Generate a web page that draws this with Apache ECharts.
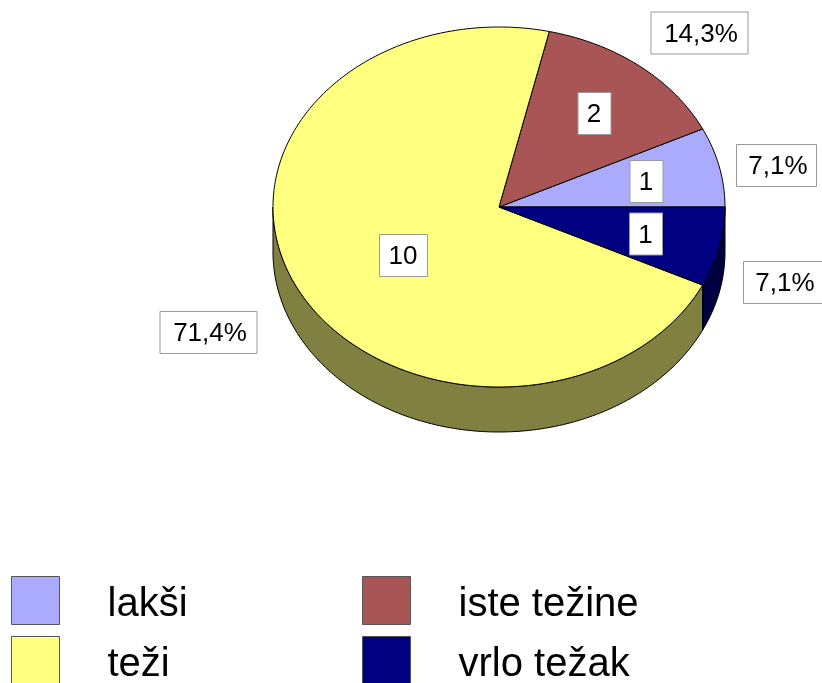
<!DOCTYPE html>
<html>
<head>
<meta charset="utf-8">
<title>chart</title>
<style>
html, body { margin: 0; padding: 0; background: #fff; overflow: hidden; }
#chart { width: 822px; height: 683px; }
</style>
<script src="https://cdn.jsdelivr.net/npm/echarts@6/dist/echarts.min.js"></script>
</head>
<body>
<div id="chart"></div>
<script>
var categories = ['lakši', 'iste težine', 'teži', 'vrlo težak'];
var values = [1, 2, 10, 1];
var percentLabels = ['7,1%', '14,3%', '71,4%', '7,1%'];
var topColors = ['#AAAAFF', '#AA5555', '#FFFF80', '#000080'];
var sideColors = ['#555580', '#552B2B', '#808040', '#000040'];

// pie geometry, the picture is a tilted pie so the top is an ellipse
var cx = 499, cy = 207, rx = 226, ry = 180, depth = 45;
var fontName = '"Liberation Sans", Arial, sans-serif';

// label boxes [centre x, centre y, width], same order as categories
var valueBoxes = [[646, 181, 33], [594, 113, 33], [403, 255, 48], [645.5, 233.5, 33]];
var percentBoxes = [[776, 165, 80], [699, 32.5, 97], [208, 332, 97], [783, 282, 80]];
var boxHeight = 42;

var total = values.reduce(function (a, b) { return a + b; }, 0);

function startAngle(idx) {
	var sum = 0;
	for (var i = 0; i < idx; i++) sum += values[i];
	return sum / total * 360;
}

function rimPoint(deg, offset) {
	var rad = deg * Math.PI / 180;
	return [cx + rx * Math.cos(rad), cy - ry * Math.sin(rad) + offset];
}

function arcPoints(from, to, offset) {
	var pts = [];
	var steps = Math.max(2, Math.ceil(Math.abs(to - from)));
	for (var i = 0; i <= steps; i++) {
		pts.push(rimPoint(from + (to - from) * i / steps, offset));
	}
	return pts;
}

function labelBox(box, text, dx) {
	return {
		type: 'group',
		children: [{
			type: 'rect',
			shape: { x: box[0] - box[2] / 2 + 0.5, y: box[1] - boxHeight / 2 + 0.5, width: box[2], height: boxHeight },
			style: { fill: '#fff', stroke: '#999', lineWidth: 1 }
		}, {
			type: 'text',
			style: {
				x: box[0] + dx, y: box[1] + 2,
				text: text,
				fill: '#000',
				font: '26px ' + fontName,
				align: 'center',
				verticalAlign: 'middle'
			}
		}]
	};
}

function renderSlice(params, api) {
	var idx = params.seriesIndex;
	var a0 = startAngle(idx);
	var a1 = a0 + api.value(0) / total * 360;
	var children = [];

	// visible wall, only the front half of the pie
	var s0 = Math.max(a0, 180);
	if (a1 > s0) {
		var wall = arcPoints(s0, a1, 0).concat(arcPoints(a1, s0, depth));
		children.push({
			type: 'polygon',
			shape: { points: wall },
			style: { fill: sideColors[idx], stroke: '#000', lineWidth: 1 }
		});
	}

	children.push({
		type: 'polygon',
		shape: { points: [[cx, cy]].concat(arcPoints(a0, a1, 0)) },
		style: { fill: topColors[idx], stroke: '#000', lineWidth: 1 }
	});

	return { type: 'group', children: children };
}

function renderLabels(params, api) {
	var idx = api.value(0);
	return {
		type: 'group',
		children: [
			labelBox(valueBoxes[idx], String(values[idx]), 0),
			labelBox(percentBoxes[idx], percentLabels[idx], 2)
		]
	};
}

var series = categories.map(function (name, i) {
	return {
		name: name,
		type: 'custom',
		coordinateSystem: 'none',
		renderItem: renderSlice,
		itemStyle: { color: topColors[i] },
		silent: true,
		z: 2,
		data: [[values[i]]]
	};
});

series.push({
	name: 'labels',
	type: 'custom',
	coordinateSystem: 'none',
	renderItem: renderLabels,
	silent: true,
	z: 5,
	data: categories.map(function (c, i) { return [i]; })
});

// one legend per entry, the lower row runs off the bottom of the window
function makeLegend(left, top, name) {
	return {
		left: left,
		top: top,
		padding: 0,
		itemWidth: 48,
		itemHeight: 48,
		icon: 'rect',
		selectedMode: false,
		itemStyle: { borderColor: '#555', borderWidth: 1 },
		formatter: '{t|{name}}',
		textStyle: {
			rich: {
				t: {
					fontFamily: fontName,
					fontSize: 40,
					color: '#000',
					padding: [9, 0, 0, 43]
				}
			}
		},
		data: [name]
	};
}

var myChart = echarts.init(document.getElementById('chart'), null, { renderer: 'canvas' });
myChart.setOption({
	animation: false,
	backgroundColor: '#fff',
	legend: [
		makeLegend(11, 576, categories[0]),
		makeLegend(362, 576, categories[1]),
		makeLegend(11, 636, categories[2]),
		makeLegend(362, 636, categories[3])
	],
	series: series
});
</script>
</body>
</html>
